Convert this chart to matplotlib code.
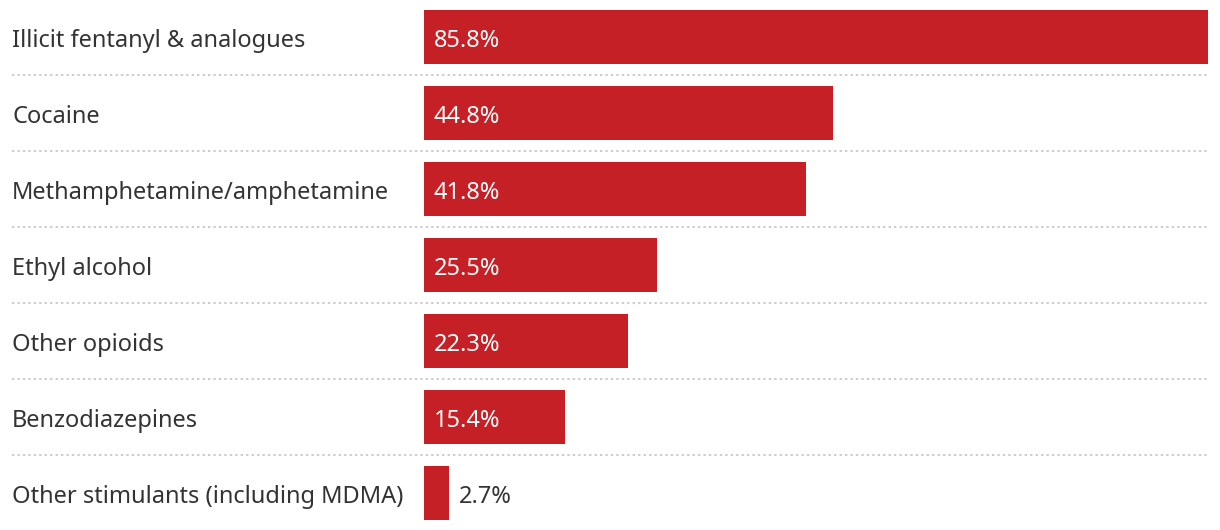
import matplotlib.pyplot as plt
from matplotlib.transforms import blended_transform_factory, offset_copy

plt.rcParams['font.family'] = ['Noto Sans', 'DejaVu Sans']

categories = [
    "Illicit fentanyl & analogues",
    "Cocaine",
    "Methamphetamine/amphetamine",
    "Ethyl alcohol",
    "Other opioids",
    "Benzodiazepines",
    "Other stimulants (including MDMA)",
]
values = [85.8, 44.8, 41.8, 25.5, 22.3, 15.4, 2.7]

bar_color = "#c42026"
text_color = "#333333"

W, H = 1220, 530
fig = plt.figure(figsize=(W / 100, H / 100), dpi=100)
ax = fig.add_axes([424 / W, -1 / H, 784 / W, 532 / H])

ypos = list(range(len(categories)))
ax.barh(ypos, values, height=54 / 76, color=bar_color)
ax.set_xlim(0, max(values))
ax.set_ylim(len(categories) - 0.5, -0.5)
ax.axis("off")

fs = 17
lab_tr = blended_transform_factory(fig.transFigure, ax.transData)
lab_tr_off = offset_copy(lab_tr, fig=fig, x=0, y=-4, units="dots")
val_tr = offset_copy(ax.transData, fig=fig, x=10, y=-4, units="dots")
for y, (cat, v) in enumerate(zip(categories, values)):
    ax.text(12 / W, y, cat, transform=lab_tr_off, ha="left", va="center",
            fontsize=fs, color=text_color)
    if v > 10:
        ax.text(0, y, f"{v}%", transform=val_tr, ha="left", va="center",
                fontsize=fs, color="white")
    else:
        ax.text(v, y, f"{v}%", transform=val_tr, ha="left", va="center",
                fontsize=fs, color=text_color)

# dotted separators between rows
for y in ypos[:-1]:
    ax.plot([12 / W, 1208 / W], [y + 0.5, y + 0.5], transform=lab_tr,
            color="#cccccc", lw=1.4, linestyle=(0, (1.2, 1.6)),
            clip_on=False)

fig.savefig("out.png", dpi=100)
